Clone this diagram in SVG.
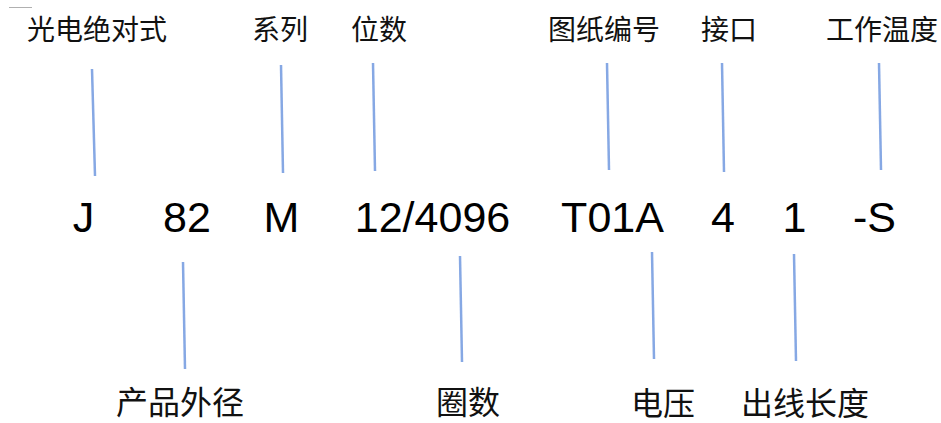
<svg xmlns="http://www.w3.org/2000/svg" width="941" height="423" viewBox="0 0 941 423">
<style>
.lbl{font-family:"Noto Sans CJK SC","Noto Sans CJK JP",sans-serif;font-size:28px;fill:#111}
.lbl2{font-family:"Noto Sans CJK SC","Noto Sans CJK JP",sans-serif;font-size:32px;fill:#111}
.code{font-family:"Liberation Sans",Arial,sans-serif;font-size:43px;fill:#000;text-anchor:middle}
.conn line{stroke:#86a8e4;stroke-width:2.5;stroke-linecap:butt}
</style>
<rect width="941" height="423" fill="#fff"/>
<line x1="9" y1="7.5" x2="32" y2="7.5" stroke="#b0b0b0" stroke-width="1"/>
<g id="top-labels">
<g id="n-gdjds"><text class="lbl" x="27" y="40">光电绝对式</text></g>
<g id="n-xl"><text class="lbl" x="252" y="40">系列</text></g>
<g id="n-ws"><text class="lbl" x="351" y="40">位数</text></g>
<g id="n-tzbh"><text class="lbl" x="548" y="40">图纸编号</text></g>
<g id="n-jk"><text class="lbl" x="701" y="40">接口</text></g>
<g id="n-gzwd"><text class="lbl" x="826" y="40">工作温度</text></g>
</g>
<g id="codes">
<g id="c-J"><text class="code" x="83.5" y="232">J</text></g>
<g id="c-82"><text class="code" x="187" y="232">82</text></g>
<g id="c-M"><text class="code" x="281.5" y="232">M</text></g>
<g id="c-12"><text class="code" x="432.5" y="232">12/4096</text></g>
<g id="c-T01A"><text class="code" x="612.5" y="232">T01A</text></g>
<g id="c-4"><text class="code" x="723" y="232">4</text></g>
<g id="c-1"><text class="code" x="794.5" y="232">1</text></g>
<g id="c-S"><text class="code" x="874.5" y="232">-S</text></g>
</g>
<g id="bottom-labels">
<g id="n-cpwj"><text class="lbl2" x="116" y="414">产品外径</text></g>
<g id="n-qs"><text class="lbl2" x="436" y="414">圈数</text></g>
<g id="n-dy"><text class="lbl2" x="631" y="415">电压</text></g>
<g id="n-cxcd"><text class="lbl2" x="741" y="415">出线长度</text></g>
</g>
<g id="connectors" class="conn">
<line x1="92" y1="69" x2="95" y2="176"/>
<line x1="281" y1="65" x2="283" y2="173"/>
<line x1="373" y1="63" x2="375" y2="171"/>
<line x1="607" y1="63" x2="609" y2="170"/>
<line x1="722" y1="63" x2="724" y2="172"/>
<line x1="879" y1="63" x2="881" y2="170"/>
<line x1="183" y1="262" x2="185" y2="369"/>
<line x1="460" y1="256" x2="462" y2="362"/>
<line x1="652" y1="252" x2="654" y2="359"/>
<line x1="794" y1="254" x2="796" y2="361"/>
</g>
</svg>
